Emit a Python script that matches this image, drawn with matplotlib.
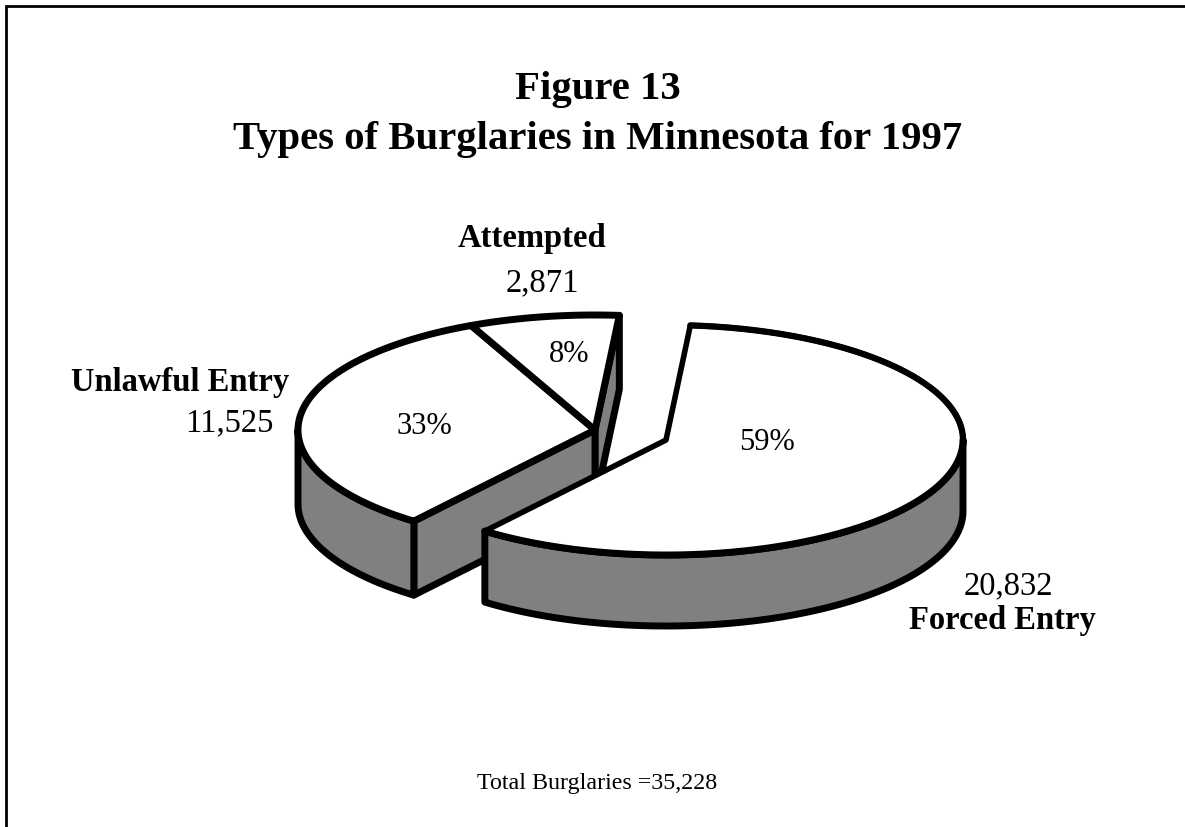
import numpy as np
import matplotlib
matplotlib.use('Agg')
import matplotlib.pyplot as plt
from matplotlib.patches import Polygon

plt.rcParams['font.family'] = ['Liberation Serif', 'DejaVu Serif']

# data
categories = ['Forced Entry', 'Unlawful Entry', 'Attempted']
burglaries = [20832, 11525, 2871]
percents = ['59%', '33%', '8%']
count_labels = ['20,832', '11,525', '2,871']
title_lines = ['Figure 13', 'Types of Burglaries in Minnesota for 1997']
total_label = 'Total Burglaries =35,228'

# pie geometry, in pixels
start_angle = 85.3
rx, ry = 297.0, 115.0
main_depth = 74.0
forced_depth = 71.0
main_center = (595.0, 430.0)
forced_center = (666.0, 440.0)
lw = 5.0
gray = '#808080'


def ell(c, a, dy=0.0):
    a = np.radians(a)
    return np.column_stack([c[0] + rx * np.cos(a), c[1] - ry * np.sin(a) + dy])


def arc(a0, a1):
    return np.linspace(a0, a1, 200)


def poly(ax, pts, fc, z, width=lw):
    ax.add_patch(Polygon(pts, closed=True, fc=fc, ec='black', lw=width, joinstyle='round', zorder=z))


fig = plt.figure(figsize=(11.85, 8.27), dpi=100)
ax = fig.add_axes([0, 0, 1, 1])
ax.set_xlim(0, 1185)
ax.set_ylim(827, 0)
ax.axis('off')

# slice angles, clockwise from start
sweep = np.array(burglaries) / sum(burglaries) * 360.0
forced_a0, forced_a1 = start_angle, start_angle - sweep[0]
unl_a0, unl_a1 = forced_a1, forced_a1 - sweep[1]
att_a0, att_a1 = unl_a1, unl_a1 - sweep[2]

# attempted and unlawful sit behind the forced entry slice
c = np.array([main_center])
edge_att = ell(main_center, att_a1 % 360)
poly(ax, np.vstack([c, edge_att, edge_att + [0, main_depth], c + [0, main_depth]]), gray, 2)

edge_unl = ell(main_center, unl_a0)
poly(ax, np.vstack([c, edge_unl, edge_unl + [0, main_depth], c + [0, main_depth]]), gray, 3)

rim = ell(main_center, arc(-180, unl_a0))
poly(ax, np.vstack([rim, ell(main_center, arc(unl_a0, -180), main_depth)]), gray, 3)

poly(ax, np.vstack([c, ell(main_center, arc(unl_a0, unl_a1))]), 'white', 4)
poly(ax, np.vstack([c, ell(main_center, arc(att_a0, att_a1))]), 'white', 4)

# forced entry slice, its cut edges are drawn thinner than the rim
fc = np.array([forced_center])
rim = ell(forced_center, arc(0, forced_a1))
back = ell(forced_center, arc(forced_a0, 0))
poly(ax, np.vstack([rim, ell(forced_center, arc(forced_a1, 0), forced_depth)]), gray, 5)
poly(ax, np.vstack([fc, ell(forced_center, arc(forced_a0, forced_a1))]), 'white', 6, width=4.0)
ax.plot(back[:, 0], back[:, 1], color='black', lw=4.5, solid_capstyle='round', zorder=7)
ax.plot(rim[:, 0], rim[:, 1], color='black', lw=lw, solid_capstyle='round', zorder=7)

# page frame, open on the right and the bottom
ax.plot([5.5, 5.5, 1185], [827, 6, 6], color='black', lw=2.0, solid_joinstyle='miter', zorder=1)

# titles
for line, y in zip(title_lines, [89, 139]):
    ax.text(598, y, line, ha='center', va='center', fontsize=29.3, fontweight='bold')

# slice text
for pct, xy in zip(percents, [(767, 442), (424, 426), (569, 354)]):
    ax.text(xy[0], xy[1], pct, ha='center', va='center', fontsize=22, zorder=8)

ax.text(1096, 620, categories[0], ha='right', va='center', fontsize=23.5, fontweight='bold')
ax.text(1053, 586, count_labels[0], ha='right', va='center', fontsize=23.5)
ax.text(289, 383, categories[1], ha='right', va='center', fontsize=23.5, fontweight='bold')
ax.text(273, 423, count_labels[1], ha='right', va='center', fontsize=23.5)
ax.text(532, 239, categories[2], ha='center', va='center', fontsize=23.5, fontweight='bold')
ax.text(542, 283, count_labels[2], ha='center', va='center', fontsize=23.5)

ax.text(597, 783, total_label, ha='center', va='center', fontsize=17.3)

fig.savefig('out.png', dpi=100, facecolor='white')
